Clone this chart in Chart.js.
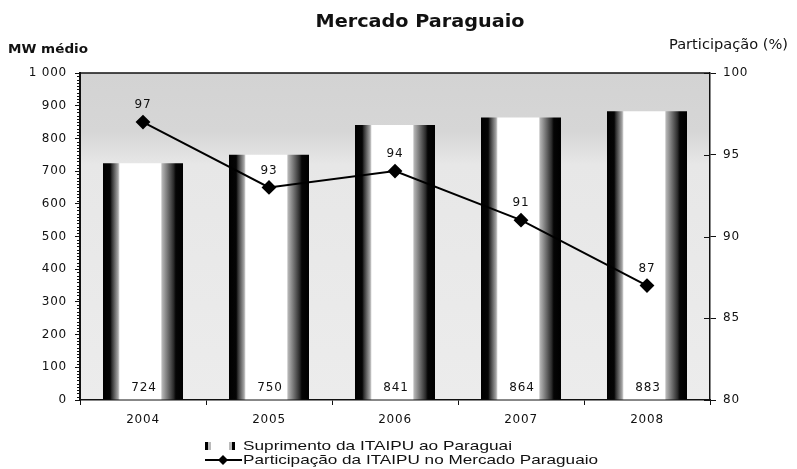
<!DOCTYPE html>
<html>
<head>
<meta charset="utf-8">
<script src="https://cdn.jsdelivr.net/npm/chart.js@4/dist/chart.umd.min.js"></script>
<style>
html, body { margin: 0; padding: 0; background: #fff; }
#wrap { position: relative; width: 797px; height: 469px; }
</style>
</head>
<body>
<div id="wrap"><canvas id="chart" width="797" height="469"></canvas></div>
<script>
// data
const years = ['2004', '2005', '2006', '2007', '2008'];
const supplyMW = [724, 750, 841, 864, 883];        // Suprimento da ITAIPU ao Paraguai (MW médio)
const sharePct = [97, 93, 94, 91, 87];             // Participação da ITAIPU no Mercado (%)

const seriesNames = ['Suprimento da ITAIPU ao Paraguai', 'Participação da ITAIPU no Mercado Paraguaio'];
const chartTitle = 'Mercado Paraguaio';
const leftTitle = 'MW médio';
const rightTitle = 'Participação (%)';

const BAR_PCT = 0.635;
const FONT = '"DejaVu Sans", Arial, sans-serif';

// write text squeezed/stretched to a target width (the scan is a bit wide)
function fitText(ctx, text, x, y, width, align){
	ctx.save();
	const w = ctx.measureText(text).width;
	const sx = width / w;
	ctx.textAlign = 'left';
	let left = x;
	if (align === 'center') left = x - width / 2;
	if (align === 'right') left = x - width;
	ctx.translate(left, y);
	ctx.scale(sx, 1);
	ctx.fillText(text, 0, 0);
	ctx.restore();
}

// white bar with dark gradient edges
function barFill(c){
	const chart = c.chart;
	const area = chart.chartArea;
	if (!area || !chart.scales.x) return '#fff';
	const w = area.width / years.length * BAR_PCT;
	const cx = chart.scales.x.getPixelForValue(c.dataIndex);
	const g = chart.ctx.createLinearGradient(cx - w / 2, 0, cx + w / 2, 0);
	g.addColorStop(0, '#000');
	g.addColorStop(0.09, '#050505');
	g.addColorStop(0.11, '#2e2e2e');
	g.addColorStop(0.19, '#a8a8a8');
	g.addColorStop(0.21, '#fff');
	g.addColorStop(0.72, '#fff');
	g.addColorStop(0.74, '#b4b4b4');
	g.addColorStop(0.88, '#2e2e2e');
	g.addColorStop(0.91, '#050505');
	g.addColorStop(1, '#000');
	return g;
}

const decorPlugin = {
	id: 'decor',
	beforeDraw(chart){
		const ctx = chart.ctx, a = chart.chartArea;
		ctx.save();
		const g = ctx.createLinearGradient(0, a.top, 0, a.bottom);
		g.addColorStop(0, '#d3d3d3');
		g.addColorStop(0.18, '#d6d6d6');
		g.addColorStop(0.28, '#e7e7e7');
		g.addColorStop(1, '#ececec');
		ctx.fillStyle = g;
		ctx.fillRect(a.left, a.top, a.width, a.height);
		ctx.restore();
		ctx.letterSpacing = '0.8px';
	},
	afterDatasetsDraw(chart){
		const ctx = chart.ctx;
		ctx.save();
		ctx.fillStyle = '#111';
		ctx.font = '12px ' + FONT;
		ctx.textAlign = 'center';
		ctx.textBaseline = 'middle';
		const bars = chart.getDatasetMeta(1).data;
		bars.forEach((el, i) => { ctx.fillText(String(supplyMW[i]), el.x + 1, 388); });
		const pts = chart.getDatasetMeta(0).data;
		pts.forEach((el, i) => { ctx.fillText(String(sharePct[i]), el.x, el.y - 17); });
		ctx.restore();
	},
	afterDraw(chart){
		const ctx = chart.ctx, a = chart.chartArea;
		const y = chart.scales.y, y1 = chart.scales.y1;
		ctx.save();
		ctx.letterSpacing = '0px';
		ctx.strokeStyle = '#111';
		ctx.lineWidth = 1.5;
		// top border
		ctx.beginPath();
		ctx.moveTo(a.left, a.top);
		ctx.lineTo(a.right, a.top);
		ctx.stroke();
		// minor ticks on the left axis
		ctx.lineWidth = 1;
		for (let v = 10; v < 1000; v += 10){
			if (v % 100 === 0) continue;
			const py = Math.round(y.getPixelForValue(v)) + 0.5;
			ctx.beginPath();
			ctx.moveTo(a.left - 3, py);
			ctx.lineTo(a.left, py);
			ctx.stroke();
		}
		// right ticks cross the axis
		for (let v = 80; v <= 100; v += 5){
			const py = Math.round(y1.getPixelForValue(v)) + 0.5;
			ctx.beginPath();
			ctx.moveTo(a.right - 6, py);
			ctx.lineTo(a.right, py);
			ctx.stroke();
		}

		// titles
		ctx.fillStyle = '#111';
		ctx.textBaseline = 'middle';
		ctx.font = 'bold 18px ' + FONT;
		fitText(ctx, chartTitle, 420, 22, 209, 'center');
		ctx.font = 'bold 13px ' + FONT;
		fitText(ctx, leftTitle, 8, 50, 80, 'left');
		ctx.font = '14px ' + FONT;
		fitText(ctx, rightTitle, 669, 45, 119, 'left');

		// legend
		const ds = chart.data.datasets;
		ctx.font = '13px Arial, "Liberation Sans", sans-serif';
		ctx.fillStyle = '#000';
		ctx.fillRect(205, 442, 3, 8);
		ctx.fillRect(232, 442, 3, 8);
		ctx.fillStyle = '#bbb';
		ctx.fillRect(208, 442, 3, 8);
		ctx.fillRect(229, 442, 3, 8);
		ctx.fillStyle = '#111';
		fitText(ctx, ds[1].label, 243, 446, 269, 'left');

		ctx.strokeStyle = '#000';
		ctx.lineWidth = 2;
		ctx.beginPath();
		ctx.moveTo(205, 460);
		ctx.lineTo(242, 460);
		ctx.stroke();
		ctx.beginPath();
		ctx.moveTo(223, 455);
		ctx.lineTo(228, 460);
		ctx.lineTo(223, 465);
		ctx.lineTo(218, 460);
		ctx.closePath();
		ctx.fillStyle = '#000';
		ctx.fill();
		ctx.fillStyle = '#111';
		fitText(ctx, ds[0].label, 243, 460, 355, 'left');
		ctx.restore();
	}
};

const chart = new Chart(document.getElementById('chart'), {
	type: 'bar',
	data: {
		labels: years,
		datasets: [
			{
				type: 'line',
				label: seriesNames[1],
				data: sharePct,
				yAxisID: 'y1',
				order: 0,
				borderColor: '#000',
				borderWidth: 2,
				pointStyle: 'rectRot',
				pointRadius: 6,
				pointBackgroundColor: '#000',
				pointBorderColor: '#000',
				tension: 0
			},
			{
				type: 'bar',
				label: seriesNames[0],
				data: supplyMW,
				yAxisID: 'y',
				order: 1,
				backgroundColor: barFill,
				borderWidth: 0,
				categoryPercentage: 1,
				barPercentage: BAR_PCT
			}
		]
	},
	options: {
		responsive: false,
		animation: false,
		devicePixelRatio: 1,
		layout: { padding: { top: 73, left: 0, right: 0, bottom: 0 } },
		plugins: {
			legend: { display: false },
			title: { display: false },
			tooltip: { enabled: false }
		},
		scales: {
			x: {
				afterFit: s => { s.height = 69; },
				grid: { offset: true, drawOnChartArea: false, tickLength: 5, color: '#111', lineWidth: 1 },
				border: { color: '#111', width: 1.5 },
				ticks: { color: '#111', font: { family: FONT, size: 12 }, padding: 8 }
			},
			y: {
				position: 'left',
				min: 0,
				max: 1000,
				afterFit: s => { s.width = 80; },
				grid: { drawOnChartArea: false, tickLength: 5, color: '#111' },
				border: { color: '#111', width: 2 },
				ticks: {
					stepSize: 100,
					color: '#111',
					padding: 8,
					font: { family: FONT, size: 12 },
					callback: v => v >= 1000 ? '1 000' : String(v)
				}
			},
			y1: {
				position: 'right',
				min: 80,
				max: 100,
				afterFit: s => { s.width = 87; },
				grid: { drawOnChartArea: false, tickLength: 6, color: '#111' },
				border: { color: '#111', width: 1.5 },
				ticks: { stepSize: 5, color: '#111', padding: 7, font: { family: FONT, size: 12 } }
			}
		}
	},
	plugins: [decorPlugin]
});
</script>
</body>
</html>
